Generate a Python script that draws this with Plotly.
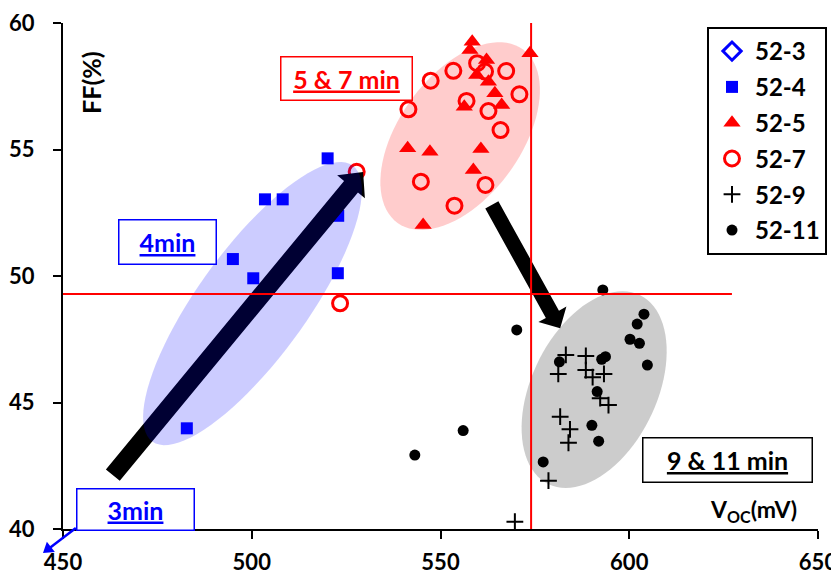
import numpy as np
import plotly.graph_objects as go

# ---------------- data ----------------
x_52_3 = []
y_52_3 = []

x_52_4 = [520.1, 503.5, 508.2, 522.9, 495.0, 500.4, 522.8, 482.8]
y_52_4 = [54.65, 53.03, 53.03, 52.38, 50.67, 49.91, 50.11, 43.98]

x_52_5 = [558.4, 557.8, 573.7, 562.2, 559.6, 562.7, 564.4, 566.2, 556.3,
          541.3, 547.2, 560.7, 558.7, 545.4]
y_52_5 = [59.26, 58.93, 58.80, 58.54, 57.94, 57.68, 57.22, 56.76, 56.69,
          55.05, 54.91, 55.02, 54.19, 52.02]

x_52_7 = [541.5, 547.4, 553.4, 559.7, 561.8, 567.4, 570.9, 556.9, 562.7,
          565.9, 544.8, 561.9, 553.7, 527.8, 523.4]
y_52_7 = [56.59, 57.72, 58.11, 58.41, 58.08, 58.10, 57.18, 56.92, 56.52,
          55.77, 53.73, 53.60, 52.78, 54.12, 48.92]

x_52_9 = [583.2, 588.5, 581.2, 588.5, 590.3, 593.3, 592.3, 594.5, 581.7,
          584.3, 583.9, 578.6, 569.7]
y_52_9 = [46.88, 46.84, 46.13, 46.28, 46.00, 46.13, 45.17, 44.90, 44.44,
          43.94, 43.41, 41.91, 40.29]

x_52_11 = [593.0, 570.2, 603.9, 602.1, 600.2, 602.7, 604.8, 581.5, 592.7,
           593.7, 591.5, 590.1, 591.9, 577.2, 543.2, 556.0]
y_52_11 = [49.45, 47.87, 48.49, 48.10, 47.50, 47.34, 46.48, 46.61, 46.71,
           46.81, 45.43, 44.10, 43.47, 42.65, 42.92, 43.89]

x_ticks = [450, 500, 550, 600, 650]
y_ticks = [40, 45, 50, 55, 60]

voc_ref = 574.0
ff_ref = 49.29
# --------------------------------------

# the page has an 8px body margin, so margins are shifted by 8px
X0, X1, Y0, Y1 = 450, 650, 40, 60
ML, MR, MT, MB = 55, 29, 15, 48
W, H = 839, 569
PW, PH = W - ML - MR, H - MT - MB
PX = PW / (X1 - X0)   # px per mV
PY = PH / (Y1 - Y0)   # px per %

FONT = "Lato"


def px_to_data(dx, dy):
    return dx / PX, -dy / PY


def data_to_paper(x, y):
    return (x - X0) / (X1 - X0), (y - Y0) / (Y1 - Y0)


def ellipse_path(cx, cy, a, b, theta_deg, n=90):
    t = np.radians(theta_deg)
    pts = []
    for phi in np.linspace(0, 2 * np.pi, n, endpoint=False):
        ux = a * np.cos(phi) * np.cos(t) + b * np.sin(phi) * np.sin(t)
        uy = -a * np.cos(phi) * np.sin(t) + b * np.sin(phi) * np.cos(t)
        ddx, ddy = px_to_data(ux, uy)
        pts.append((cx + ddx, cy + ddy))
    return "M " + " L ".join(f"{p[0]:.4f},{p[1]:.4f}" for p in pts) + " Z"


def arrow_poly(x0, y0, x1, y1, shaft_w, head_w, head_l):
    ex, ey = (x1 - x0) * PX, -(y1 - y0) * PY
    L = np.hypot(ex, ey)
    dx, dy = ex / L, ey / L
    nx, ny = -dy, dx
    bx, by = ex - dx * head_l, ey - dy * head_l
    poly = [
        (nx * shaft_w / 2, ny * shaft_w / 2),
        (bx + nx * shaft_w / 2, by + ny * shaft_w / 2),
        (bx + nx * head_w / 2, by + ny * head_w / 2),
        (ex, ey),
        (bx - nx * head_w / 2, by - ny * head_w / 2),
        (bx - nx * shaft_w / 2, by - ny * shaft_w / 2),
        (-nx * shaft_w / 2, -ny * shaft_w / 2),
    ]
    out = []
    for px, py in poly:
        ddx, ddy = px_to_data(px, py)
        out.append((x0 + ddx, y0 + ddy))
    return out


def to_path(pts):
    return "M " + " L ".join(f"{p[0]:.5f},{p[1]:.5f}" for p in pts) + " Z"


fig = go.Figure()

fig.add_trace(go.Scatter(x=x_52_3 or [None], y=y_52_3 or [None], mode="markers", name="52-3",
                         legendgroup="a",
                         marker=dict(symbol="diamond-open", size=14, color="blue",
                                     line=dict(width=3, color="blue"))))
fig.add_trace(go.Scatter(x=x_52_4, y=y_52_4, mode="markers", name="52-4", legendgroup="b",
                         marker=dict(symbol="square", size=12, color="blue")))
fig.add_trace(go.Scatter(x=x_52_5, y=y_52_5, mode="markers", name="52-5", legendgroup="c",
                         marker=dict(symbol="triangle-up", size=15, color="red")))
fig.add_trace(go.Scatter(x=x_52_7, y=y_52_7, mode="markers", name="52-7", legendgroup="d",
                         marker=dict(symbol="circle-open", size=15, color="red",
                                     line=dict(width=3, color="red"))))
fig.add_trace(go.Scatter(x=x_52_9, y=y_52_9, mode="markers", name="52-9", legendgroup="e",
                         marker=dict(symbol="cross-thin-open", size=12, color="black",
                                     line=dict(width=2, color="black"))))
fig.add_trace(go.Scatter(x=x_52_11, y=y_52_11, mode="markers", name="52-11", legendgroup="f",
                         marker=dict(symbol="circle", size=11, color="black")))

for tr in fig.data:
    tr.cliponaxis = False

shapes = []
# black arrows (under translucent ellipses)
shapes.append(dict(type="path", xref="x", yref="y", layer="above",
                   path=to_path(arrow_poly(463.2, 42.13, 529.5, 54.11, 18, 36, 19)),
                   fillcolor="black", line=dict(width=0)))
shapes.append(dict(type="path", xref="x", yref="y", layer="above",
                   path=to_path(arrow_poly(563.6, 52.81, 581.7, 47.93, 15, 32, 16)),
                   fillcolor="black", line=dict(width=0)))
# ellipses
shapes.append(dict(type="path", xref="x", yref="y", layer="above",
                   path=ellipse_path(500.2, 48.91, 170.5, 54.3, 54.0),
                   fillcolor="rgba(0,0,255,0.2)", line=dict(width=0)))
shapes.append(dict(type="path", xref="x", yref="y", layer="above",
                   path=ellipse_path(555.2, 55.53, 107, 61, 54.2),
                   fillcolor="rgba(255,0,0,0.2)", line=dict(width=0)))
shapes.append(dict(type="path", xref="x", yref="y", layer="above",
                   path=ellipse_path(590.7, 45.51, 105, 62.6, 64.2),
                   fillcolor="rgba(0,0,0,0.2)", line=dict(width=0)))
# red reference lines
shapes.append(dict(type="line", xref="x", yref="y", layer="above",
                   x0=voc_ref, x1=voc_ref, y0=Y0, y1=Y1,
                   line=dict(color="red", width=2)))
shapes.append(dict(type="line", xref="x", yref="y", layer="above",
                   x0=X0, x1=627.2, y0=ff_ref, y1=ff_ref,
                   line=dict(color="red", width=2)))
# small blue arrow from the "3min" box (paper coords so it is not clipped)
tail = data_to_paper(453.4, 40.04)
tip = data_to_paper(445.6, 39.15)
shapes.append(dict(type="line", xref="paper", yref="paper", layer="above",
                   x0=tail[0], y0=tail[1], x1=tip[0], y1=tip[1],
                   line=dict(color="blue", width=2.5)))
head = arrow_poly(448.2, 39.46, 444.7, 39.05, 0.1, 13, 10)
head = [data_to_paper(*p) for p in head]
shapes.append(dict(type="path", xref="paper", yref="paper", layer="above",
                   path=to_path([head[2], head[3], head[4]]),
                   fillcolor="blue", line=dict(width=0)))
fig.update_layout(shapes=shapes)

bold = dict(family=FONT, weight="bold")


def box(text, cx, cy, w, h, color, border):
    return dict(x=cx, y=cy, xref="x", yref="y", text=text, showarrow=False,
                xanchor="center", yanchor="middle", width=w, height=h,
                bgcolor="white", bordercolor=border, borderwidth=1.5, borderpad=0,
                font=dict(size=25, color=color, **bold))


annotations = [
    box("<u>5 &amp; 7 min</u>", 524.97, 57.79, 130, 42, "red", "red"),
    box("<u>4min</u>", 477.68, 51.34, 96, 43, "blue", "blue"),
    box("<u>3min</u>", 469.2, 40.77, 116, 40, "blue", "blue"),
    box("<u>9 &amp; 11 min</u>", 626.03, 42.73, 168, 43, "black", "black"),
    dict(x=457.4, y=57.67, xref="x", yref="y", text="FF(%)", showarrow=False,
         textangle=-90, xanchor="center", yanchor="middle",
         font=dict(size=25, color="black", **bold)),
    dict(x=633.0, y=40.75, xref="x", yref="y", text="V<sub>OC</sub>(mV)", showarrow=False,
         xanchor="center", yanchor="middle",
         font=dict(size=23, color="black", **bold)),
]
fig.update_layout(annotations=annotations)

axis_common = dict(showgrid=False, zeroline=False, showline=True, linecolor="black",
                   linewidth=2, ticks="outside", ticklen=8, tickwidth=2, automargin=False,
                   ticklabeloverflow="allow",
                   tickcolor="black", tickfont=dict(size=22, color="black", **bold))
fig.update_xaxes(range=[X0, X1], tickvals=x_ticks, ticklabelstandoff=5, **axis_common)
fig.update_yaxes(range=[Y0, Y1], tickvals=y_ticks, ticklabelstandoff=14, **axis_common)

fig.update_layout(
    width=W, height=H,
    margin=dict(l=ML, r=MR, t=MT, b=MB, pad=0, autoexpand=False),
    plot_bgcolor="white", paper_bgcolor="white",
    font=dict(family=FONT, color="black"),
    legend=dict(x=(707 - 63) / PW, y=(529 - 27) / PH,
                xanchor="left", yanchor="top", bgcolor="white",
                bordercolor="black", borderwidth=2, tracegroupgap=1.6,
                font=dict(size=24, color="black", **bold),
                itemwidth=36),
)

fig.write_html("out.html")
